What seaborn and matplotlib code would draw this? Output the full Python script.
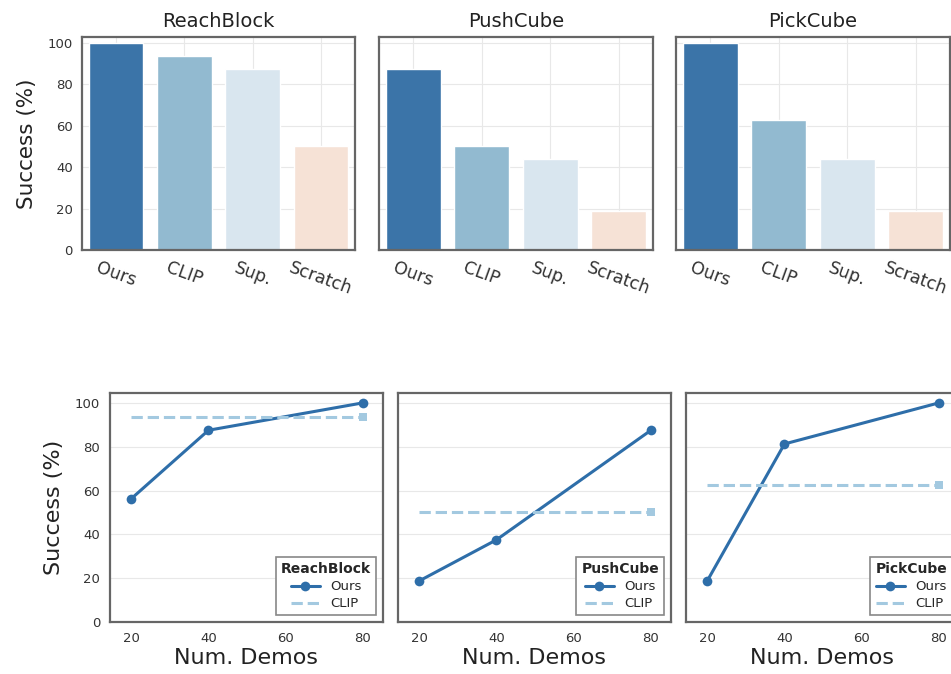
import matplotlib
matplotlib.use("Agg")
import matplotlib.pyplot as plt
import seaborn as sns
import pandas as pd

# ---- data ----
methods = ["Ours", "CLIP", "Sup.", "Scratch"]
tasks = ["ReachBlock", "PushCube", "PickCube"]
reach_bars = [100.0, 93.75, 87.5, 50.0]
push_bars = [87.5, 50.0, 43.75, 18.75]
pick_bars = [100.0, 62.5, 43.75, 18.75]

demos = [20, 40, 80]
reach_ours = [56.25, 87.5, 100.0]
push_ours = [18.75, 37.5, 87.5]
pick_ours = [18.75, 81.25, 100.0]
clip_x = [20, 80]
reach_clip = [93.75, 93.75]
push_clip = [50.0, 50.0]
pick_clip = [62.5, 62.5]

bar_colors = ["#3b74a8", "#92bad0", "#d9e6ef", "#f6e2d6"]
ours_color = "#2e6ea9"
clip_color = "#a3c9e0"

sns.set_style("whitegrid")
plt.rcParams["font.family"] = ["DejaVu Sans"]
plt.rcParams["axes.edgecolor"] = "#666666"
plt.rcParams["axes.linewidth"] = 1.6
plt.rcParams["grid.color"] = "#e8e8e8"

W, H = 951, 674
fig = plt.figure(figsize=(W / 100, H / 100), dpi=100)

def box(x0, x1, y0, y1):
    return [x0 / W, 1 - y1 / H, (x1 - x0) / W, (y1 - y0) / H]

top_pos = [box(82, 355, 37, 250), box(379, 653, 37, 250), box(676, 950, 37, 250)]
bot_pos = [box(110, 383, 393, 622), box(398, 671, 393, 622), box(686, 959, 393, 622)]

bars = [reach_bars, push_bars, pick_bars]
ours = [reach_ours, push_ours, pick_ours]
clips = [reach_clip, push_clip, pick_clip]
palette = dict(zip(methods, bar_colors))

for i, task in enumerate(tasks):
    ax = fig.add_axes(top_pos[i])
    df = pd.DataFrame({"method": methods, "success": bars[i]})
    sns.barplot(data=df, x="method", y="success", hue="method", palette=palette,
                saturation=1, width=0.8, legend=False, ax=ax)
    ax.set_ylim(0, 102.7)
    ax.set_xlim(-0.5, 3.5)
    ax.set_yticks([0, 20, 40, 60, 80, 100])
    ax.grid(True, axis="both")
    ax.set_title(task, fontsize=14, color="#222222", pad=7)
    ax.set_xlabel("")
    ax.tick_params(axis="x", labelsize=12.5, rotation=-20, pad=3, colors="#333333")
    ax.tick_params(axis="y", labelsize=9.5, colors="#333333", pad=3)
    for lbl in ax.get_xticklabels():
        lbl.set_ha("center")
    if i == 0:
        ax.set_ylabel("Success (%)", fontsize=15.5, color="#222222", labelpad=8)
    else:
        ax.set_ylabel("")
        ax.set_yticklabels([])
    ax.set_axisbelow(True)

for i, task in enumerate(tasks):
    ax = fig.add_axes(bot_pos[i])
    sns.lineplot(x=demos, y=ours[i], color=ours_color, marker="o", markersize=7,
                 linewidth=2.2, markeredgewidth=0, label="Ours", ax=ax)
    sns.lineplot(x=clip_x, y=clips[i], color=clip_color, linestyle="--",
                 linewidth=2.2, dashes=(5, 3), label="CLIP", ax=ax)
    sns.scatterplot(x=[clip_x[-1]], y=[clips[i][-1]], color=clip_color, marker="s",
                    s=40, linewidth=0, ax=ax, legend=False)
    ax.set_xlim(14.5, 85.2)
    ax.set_ylim(0, 104.5)
    ax.set_xticks([20, 40, 60, 80])
    ax.set_yticks([0, 20, 40, 60, 80, 100])
    ax.grid(axis="x", visible=False)
    ax.tick_params(axis="both", labelsize=9.5, colors="#333333")
    ax.set_xlabel("Num. Demos", fontsize=16, color="#222222", labelpad=2)
    if i == 0:
        ax.set_ylabel("Success (%)", fontsize=16, color="#222222", labelpad=8)
    else:
        ax.set_ylabel("")
        ax.set_yticklabels([])
    leg = ax.legend(title=task, loc="lower right", fontsize=9.5,
                    title_fontproperties={"weight": "bold", "size": 10},
                    fancybox=False, edgecolor="#888888", framealpha=1,
                    borderpad=0.4, handlelength=2.2, labelspacing=0.3)
    leg.get_frame().set_linewidth(1.2)

fig.savefig("out.png", dpi=100)
